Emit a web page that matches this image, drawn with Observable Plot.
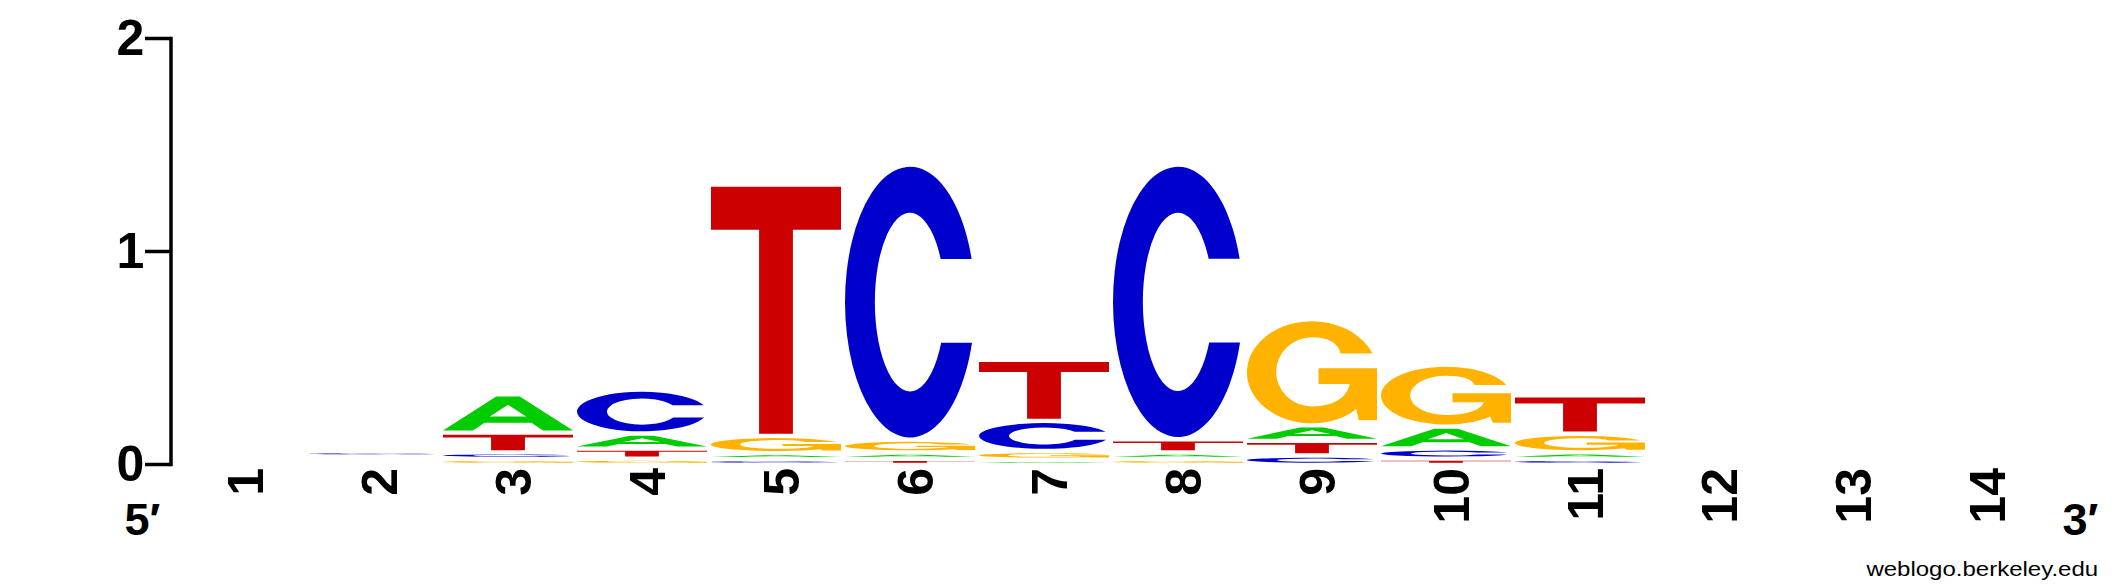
<!DOCTYPE html>
<html>
<head>
<meta charset="utf-8">
<script src="https://cdn.jsdelivr.net/npm/d3@7"></script>
<script src="https://cdn.jsdelivr.net/npm/@observablehq/plot@0.6"></script>
<style>
  body { margin: 0; background: #fff; }
  #wrap { position: relative; width: 2125px; height: 588px; overflow: hidden; }
  #caption {
    position: absolute; top: 559px; right: 27px;
    font: 20px "Liberation Sans", Arial, sans-serif; line-height: 20px;
    transform: scaleX(1.2); transform-origin: right center; white-space: nowrap;
  }
</style>
</head>
<body>
<div id="wrap">
  <div id="chart"></div>
  <div id="caption">weblogo.berkeley.edu</div>
</div>
<script>
const positions = [1, 2, 3, 4, 5, 6, 7, 8, 9, 10, 11, 12, 13, 14];
const bases = ["A", "C", "G", "T"];
const baseColors = ["#00CC00", "#0000CC", "#FFB300", "#CC0000"];
const bitsA = [0, 0.013, 0.180, 0.071, 0.028, 0.030, 0.024, 0.030, 0.072, 0.102, 0.031, 0, 0, 0];
const bitsC = [0, 0.025, 0.031, 0.206, 0.027, 1.291, 0.141, 1.289, 0.044, 0.048, 0.028, 0, 0, 0];
const bitsG = [0, 0.013, 0.028, 0.029, 0.081, 0.060, 0.041, 0.028, 0.499, 0.292, 0.087, 0, 0, 0];
const bitsT = [0, 0.013, 0.092, 0.047, 1.180, 0.028, 0.287, 0.062, 0.069, 0.029, 0.180, 0, 0, 0];
const yTicks = [0, 1, 2];
const endLabels = ["5′", "3′"];

const bitsByBase = { A: bitsA, C: bitsC, G: bitsG, T: bitsT };
const rows = positions.flatMap((pos, i) =>
  bases.map(letter => ({ pos, letter, bits: bitsByBase[letter][i] }))
).filter(d => d.bits > 0);

// letter outlines in a 100x100 box, stretched to each stacked slot
const glyphs = {
  A: "M0,100L41,0H59L100,100H77L68,77H32L23,100Z M36,59H64L50,24Z",
  C: "M97.4,34A50,50 0 1 0 97.7,65H74A27,33 0 1 1 73.6,34Z",
  G: "M96.4,31.5A50,50 0 1 0 80,90L84,86L86,97H100V46H55V61.5H79C77,75 66,83.5 50,83.5A27.6,33.9 0 0 1 50,15.7C62,15.7 70,21 72,31.5Z",
  T: "M0,0H100V17.4H63V100H37V17.4H0Z"
};
const padTop = 3, padBottom = 1.3; // weblogo leaves a little air between letters

function drawGlyphs(index, scales, values) {
  const bw = scales.x.bandwidth();
  const g = d3.create("svg:g");
  for (const i of index) {
    const top = Math.min(values.y1[i], values.y2[i]) + padTop;
    const bottom = Math.max(values.y1[i], values.y2[i]) - padBottom;
    const h = bottom - top;
    if (!(h > 0)) continue;
    g.append("path")
      .attr("d", glyphs[rows[i].letter])
      .attr("fill", values.fill[i])
      .attr("fill-rule", "evenodd")
      .attr("transform", `translate(${values.x[i]},${top}) scale(${bw / 100},${h / 100})`);
  }
  return g.node();
}

const font = '"Liberation Sans", Arial, Helvetica, sans-serif';

const plot = Plot.plot({
  width: 2125,
  height: 550,
  marginLeft: 170.5,
  marginRight: 73.5,
  marginTop: 38,
  marginBottom: 86,
  x: { type: "band", domain: positions, paddingInner: 0.0299, paddingOuter: 0.0336, axis: null },
  y: { domain: [0, 2] },
  color: { domain: bases, range: baseColors },
  style: { fontFamily: font, background: "white", color: "black" },
  marks: [
    Plot.frame({ anchor: "left", strokeWidth: 3.5, strokeLinecap: "square" }),
    Plot.axisY({
      ticks: yTicks, tickSize: 25.5, tickPadding: 1.3, strokeWidth: 3.5,
      fontSize: 50, fontWeight: "bold", tickFormat: d => String(d), label: null
    }),
    Plot.barY(rows, { x: "pos", y: "bits", fill: "letter", order: "value", render: drawGlyphs }),
    Plot.text(positions, {
      x: d => d, text: d => String(d), frameAnchor: "bottom", rotate: -90,
      textAnchor: "end", lineAnchor: "middle", dx: 6, dy: 3.5,
      fontSize: 50, fontWeight: "bold", fill: "black"
    }),
    Plot.text([endLabels[0]], {
      text: d => d, frameAnchor: "bottom-left", textAnchor: "start", lineAnchor: "middle",
      dx: -46.5, dy: 55.6, fontSize: 45, fontWeight: "bold", fill: "black"
    }),
    Plot.text([endLabels[1]], {
      text: d => d, frameAnchor: "bottom-right", textAnchor: "start", lineAnchor: "middle",
      dx: 10.5, dy: 55.6, fontSize: 45, fontWeight: "bold", fill: "black"
    })
  ]
});

document.getElementById("chart").append(plot);
</script>
</body>
</html>
